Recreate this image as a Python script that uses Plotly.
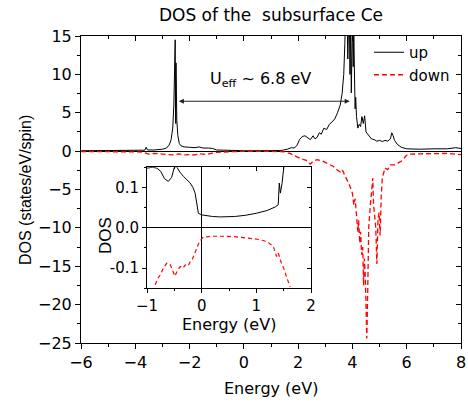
import plotly.graph_objects as go

# ---------------- data ----------------
up_E = [-6.0, -5.0, -4.2, -3.8, -3.65, -3.6, -3.55, -3.3, -3.0, -2.85, -2.75, -2.68, -2.62, -2.58,
        -2.55, -2.53, -2.52, -2.51, -2.50, -2.49, -2.47, -2.43, -2.38, -2.32, -2.2, -2.0, -1.8,
        -1.65, -1.5, -1.3, -1.15, -1.0, -0.5, 0.0, 1.0, 1.4, 1.6, 1.75, 1.85, 1.95, 2.05, 2.15,
        2.25, 2.35, 2.45, 2.55, 2.62, 2.7, 2.78, 2.85, 2.95, 3.05, 3.15, 3.25, 3.35, 3.45, 3.55,
        3.62, 3.68, 3.72, 3.75, 3.78, 3.80, 3.83, 3.85, 3.88, 3.91, 3.93, 3.96, 3.98, 4.0, 4.03,
        4.05, 4.08, 4.1, 4.12, 4.15, 4.2, 4.25, 4.3, 4.35, 4.4, 4.45, 4.5, 4.6, 4.7, 4.8, 4.9,
        5.0, 5.1, 5.2, 5.3, 5.4, 5.45, 5.5, 5.55, 5.65, 5.8, 6.0, 6.5, 7.0, 7.5, 7.8, 8.0]
up_dos = [0.05, 0.05, 0.07, 0.1, 0.12, 0.5, 0.15, 0.15, 0.25, 0.4, 0.8, 1.5, 3.0, 6.0,
          10.0, 14.5, 6.0, 3.6, 11.5, 8.0, 4.0, 2.0, 1.0, 0.7, 0.55, 0.5, 0.45,
          0.55, 0.4, 0.4, 0.35, 0.15, 0.08, 0.05, 0.06, 0.1, 0.25, 0.45, 0.4, 0.7, 1.5, 1.9,
          2.0, 1.7, 1.5, 2.0, 1.6, 1.8, 2.4, 2.2, 3.0, 2.8, 3.5, 3.8, 4.2, 5.0, 6.0,
          7.5, 10.0, 14.0, 18.0, 16.0, 19.0, 12.0, 17.0, 20.0, 10.0, 16.0, 7.6, 14.0, 18.0, 11.0,
          16.0, 9.0, 5.5, 7.0, 4.5, 3.0, 3.5, 3.2, 4.5, 3.6, 4.6, 2.5, 2.0, 1.6, 1.5, 1.3,
          1.4, 1.25, 1.4, 1.3, 1.6, 2.4, 2.0, 1.4, 0.9, 0.5, 0.3, 0.25, 0.3, 0.3, 0.45, 0.35]

down_E = [-6.0, -5.0, -4.5, -4.0, -3.7, -3.5, -3.3, -3.0, -2.8, -2.6, -2.4, -2.2, -2.0, -1.8,
          -1.6, -1.4, -1.2, -1.0, -0.5, 0.0, 1.0, 1.5, 1.7, 1.9, 2.1, 2.3, 2.45, 2.55, 2.7, 2.9,
          3.1, 3.3, 3.45, 3.55, 3.62, 3.7, 3.8, 3.9, 4.0, 4.05, 4.1, 4.15, 4.2, 4.23, 4.27, 4.3,
          4.34, 4.38, 4.41, 4.44, 4.47, 4.5, 4.53, 4.56, 4.6, 4.65, 4.7, 4.75, 4.78, 4.82, 4.86,
          4.9, 4.94, 4.98, 5.02, 5.06, 5.1, 5.2, 5.3, 5.4, 5.55, 5.7, 5.85, 5.95, 6.05, 6.5,
          7.0, 7.5, 8.0]
down_dos = [-0.05, -0.05, -0.08, -0.1, -0.15, -0.4, -0.3, -0.35, -0.45, -0.5, -0.35, -0.5, -0.45, -0.5,
            -0.35, -0.45, -0.3, -0.15, -0.08, -0.03, -0.03, -0.1, -0.3, -0.7, -1.0, -1.2, -1.7, -1.3, -1.1, -1.3,
            -1.6, -2.0, -2.5, -2.7, -2.4, -3.0, -3.6, -4.5, -5.5, -7.0, -6.2, -8.5, -10.5, -9.0, -12.0, -10.5,
            -13.5, -12.5, -17.5, -14.0, -16.0, -20.0, -24.4, -19.0, -10.0, -7.5, -5.0, -3.5, -7.0, -8.5, -10.0,
            -14.7, -9.0, -8.0, -11.0, -6.0, -3.5, -2.2, -2.4, -1.8, -1.8, -1.5, -1.2, -0.7, -0.4, -0.35,
            -0.35, -0.3, -0.45]

inset_up_E = [-1.0, -0.9, -0.82, -0.75, -0.68, -0.61, -0.55, -0.5, -0.46, -0.4, -0.33, -0.27,
              -0.21, -0.16, -0.12, -0.06, 0.0, 0.2, 0.34, 0.6, 0.8, 1.0, 1.2, 1.35, 1.4, 1.42,
              1.44, 1.47, 1.49, 1.52]
inset_up_dos = [0.148, 0.150, 0.148, 0.140, 0.122, 0.115, 0.125, 0.150, 0.152, 0.138, 0.127, 0.118,
                0.111, 0.100, 0.086, 0.036, 0.032, 0.028, 0.027, 0.028, 0.031, 0.036, 0.043, 0.052, 0.057, 0.111,
                0.086, 0.110, 0.150, 0.170]

inset_down_E = [-0.85, -0.8, -0.76, -0.7, -0.64, -0.58, -0.55, -0.49, -0.44, -0.39, -0.34, -0.30,
                -0.25, -0.21, -0.17, -0.12, -0.04, 0.03, 0.2, 0.4, 0.6, 0.88, 1.05, 1.19, 1.31, 1.37,
                1.40, 1.46, 1.5, 1.56, 1.62]
inset_down_dos = [-0.141, -0.125, -0.117, -0.100, -0.088, -0.090, -0.100, -0.120, -0.105, -0.096, -0.100, -0.092,
                  -0.095, -0.084, -0.078, -0.059, -0.034, -0.023, -0.021, -0.021, -0.022, -0.026, -0.029, -0.034,
                  -0.046, -0.071, -0.062, -0.088, -0.100, -0.125, -0.146]

main_xticks = [-6, -4, -2, 0, 2, 4, 6, 8]
main_yticks = [-25, -20, -15, -10, -5, 0, 5, 10, 15]
inset_xticks = [-1, 0, 1, 2]
inset_yticks = [-0.1, 0.0, 0.1]
inset_yticklabels = ["-0.1", "0.0", "0.1"]

WIDE = "DejaVu Sans, Verdana, sans-serif"
NARROW = "Liberation Sans, Arial, sans-serif"

fig = go.Figure()

fig.add_trace(go.Scatter(x=up_E, y=up_dos, mode="lines", name="up",
                         line=dict(color="black", width=1), xaxis="x", yaxis="y"))
fig.add_trace(go.Scatter(x=down_E, y=down_dos, mode="lines", name="down",
                         line=dict(color="red", width=1.3, dash="5px,3px"), xaxis="x", yaxis="y"))
fig.add_trace(go.Scatter(x=inset_up_E, y=inset_up_dos, mode="lines", showlegend=False,
                         line=dict(color="black", width=1), xaxis="x2", yaxis="y2"))
fig.add_trace(go.Scatter(x=inset_down_E, y=inset_down_dos, mode="lines", showlegend=False,
                         line=dict(color="red", width=1.2, dash="4px,3px"), xaxis="x2", yaxis="y2"))
# empty traces so the mirrored (inside tick) axes get drawn
fig.add_trace(go.Scatter(x=[], y=[], showlegend=False, xaxis="x3", yaxis="y"))
fig.add_trace(go.Scatter(x=[], y=[], showlegend=False, xaxis="x", yaxis="y3"))
fig.add_trace(go.Scatter(x=[], y=[], showlegend=False, xaxis="x4", yaxis="y2"))
fig.add_trace(go.Scatter(x=[], y=[], showlegend=False, xaxis="x2", yaxis="y4"))

common = dict(showgrid=False, showline=True, linecolor="black", linewidth=1,
              tickcolor="black", tickwidth=1, automargin=False, ticklabeloverflow="allow")

L, R, T, B = 81, 7, 36, 60
W, H = 468, 403
PW, PH = W - L - R, H - T - B


def px_x(px):
    return (px - L) / PW


def px_y(py):
    return (H - B - py) / PH


ix0, ix1 = px_x(147), px_x(311)
iy0, iy1 = px_y(288.3), px_y(167.3)

fig.update_layout(
    width=W, height=H,
    margin=dict(l=L, r=R, t=T, b=B),
    paper_bgcolor="white", plot_bgcolor="white",
    font=dict(family=WIDE, size=15, color="black"),
    title=dict(text="DOS of the\u00a0 subsurface Ce", x=0.5, xref="paper", xanchor="center",
               y=1 - 15 / H, yref="container", yanchor="middle",
               font=dict(family=WIDE, size=17, color="black")),
    showlegend=True,
    legend=dict(x=px_x(369), y=px_y(36), xanchor="left", yanchor="top", bgcolor="rgba(0,0,0,0)",
                font=dict(family=WIDE, size=15), tracegroupgap=0),
    xaxis=dict(**common, domain=[0, 1], range=[-6, 8], tickvals=main_xticks, ticks="outside",
               ticklen=5, mirror=True, zeroline=False, anchor="y",
               tickfont=dict(family=WIDE, size=16),
               minor=dict(dtick=1, ticks="outside", ticklen=3, tickcolor="black")),
    yaxis=dict(**common, domain=[0, 1], range=[-25, 15], tickvals=main_yticks, ticks="outside",
               ticklen=5, mirror=True, zeroline=True, zerolinecolor="black", zerolinewidth=1,
               anchor="x", tickfont=dict(family=WIDE, size=16),
               minor=dict(dtick=2.5, ticks="outside", ticklen=3, tickcolor="black")),
    xaxis3=dict(overlaying="x", side="top", range=[-6, 8], tickvals=main_xticks, ticks="inside",
                ticklen=5, showticklabels=False, showgrid=False, zeroline=False, anchor="y",
                automargin=False, tickcolor="black",
                minor=dict(dtick=1, ticks="inside", ticklen=3, tickcolor="black")),
    yaxis3=dict(overlaying="y", side="right", range=[-25, 15], tickvals=main_yticks, ticks="inside",
                ticklen=5, showticklabels=False, showgrid=False, zeroline=False, anchor="x",
                automargin=False, tickcolor="black",
                minor=dict(dtick=2.5, ticks="inside", ticklen=3, tickcolor="black")),
    xaxis2=dict(**common, domain=[ix0, ix1], range=[-1, 2], tickvals=inset_xticks, ticks="outside",
                ticklen=4, mirror=True, zeroline=True, zerolinecolor="black", zerolinewidth=1,
                anchor="y2", tickfont=dict(family=WIDE, size=15),
                minor=dict(dtick=0.5, ticks="outside", ticklen=2, tickcolor="black")),
    yaxis2=dict(**common, domain=[iy0, iy1], range=[-0.15, 0.15], tickvals=inset_yticks,
                ticktext=inset_yticklabels, ticks="outside", ticklen=4, mirror=True,
                zeroline=True, zerolinecolor="black", zerolinewidth=1, anchor="x2",
                tickfont=dict(family=WIDE, size=15),
                minor=dict(dtick=0.05, ticks="outside", ticklen=2, tickcolor="black")),
    xaxis4=dict(overlaying="x2", side="top", range=[-1, 2], tickvals=inset_xticks, ticks="inside",
                ticklen=4, showticklabels=False, showgrid=False, zeroline=False, anchor="y2",
                automargin=False, tickcolor="black",
                minor=dict(dtick=0.5, ticks="inside", ticklen=2, tickcolor="black")),
    yaxis4=dict(overlaying="y2", side="right", range=[-0.15, 0.15], tickvals=inset_yticks,
                ticks="inside", ticklen=4, showticklabels=False, showgrid=False, zeroline=False,
                anchor="x2", automargin=False, tickcolor="black",
                minor=dict(dtick=0.05, ticks="inside", ticklen=2, tickcolor="black")),
)

# axis titles as annotations (precise placement)
fig.add_annotation(x=px_x(271), y=px_y(388), xref="paper", yref="paper", showarrow=False,
                   text="Energy (eV)", font=dict(family=WIDE, size=16), xanchor="center", yanchor="middle")
fig.add_annotation(x=px_x(25), y=px_y(190), xref="paper", yref="paper", showarrow=False,
                   text="DOS (states/eV/spin)", textangle=-90, font=dict(family=NARROW, size=16),
                   xanchor="center", yanchor="middle")
fig.add_annotation(x=px_x(228.5), y=px_y(324), xref="paper", yref="paper", showarrow=False,
                   text="Energy (eV)", font=dict(family=WIDE, size=16), xanchor="center", yanchor="middle")
fig.add_annotation(x=px_x(105), y=px_y(236), xref="paper", yref="paper", showarrow=False,
                   text="DOS", textangle=-90, font=dict(family=NARROW, size=17),
                   xanchor="center", yanchor="middle")

# U_eff double arrow
fig.add_annotation(x=3.9, y=6.5, ax=-2.45, ay=6.5, xref="x", yref="y", axref="x", ayref="y",
                   text="", showarrow=True, arrowhead=2, arrowsize=1, arrowwidth=1,
                   arrowside="end+start", arrowcolor="#222222")
fig.add_annotation(x=0.6, y=9.3, xref="x", yref="y", showarrow=False,
                   text="U<sub>eff</sub> ~ 6.8 eV", font=dict(family=WIDE, size=16, color="black"))

fig.write_html("out.html", config={"displayModeBar": False},
               post_script="document.body.style.margin='0px';")
